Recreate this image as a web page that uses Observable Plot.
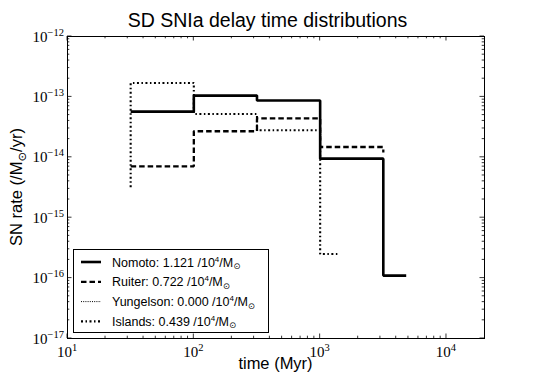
<!DOCTYPE html>
<html>
<head>
<meta charset="utf-8">
<script src="https://cdn.jsdelivr.net/npm/d3@7"></script>
<script src="https://cdn.jsdelivr.net/npm/@observablehq/plot@0.6"></script>
<style>
  html, body { margin: 0; padding: 0; background: #fff; }
  #chart svg { display: block; }
</style>
</head>
<body>
<div id="chart"></div>
<script>
// ---- data ----
const chartTitle = "SD SNIa delay time distributions";
const xLabel = "time (Myr)";
const nomotoTime = [31.62, 100, 316.2, 1000, 3162, 4800];
const nomotoRate = [5.7e-14, 5.7e-14, 1.05e-13, 8.7e-14, 9.5e-15, 1.1e-16];
const ruiterTime = [31.62, 100, 316.2, 1000, 3162, 3162];
const ruiterRate = [7.1e-15, 7.1e-15, 2.7e-14, 4.4e-14, 1.48e-14, 1.2e-14];
const yungelsonTime = [];
const yungelsonRate = [];
const islandsTime = [31.62, 100, 316.2, 1000, 1430];
const islandsRate = [3.2e-15, 1.7e-13, 5.2e-14, 2.8e-14, 2.5e-16];
const seriesNames = ["Nomoto", "Ruiter", "Yungelson", "Islands"];
const seriesTotals = ["1.121", "0.722", "0.000", "0.439"];
const xTickExps = [1, 2, 3, 4];
const yTickExps = [-12, -13, -14, -15, -16, -17];

// ---- styles ----
const styles = {
  Nomoto:    { width: 2.6, dash: null },
  Ruiter:    { width: 2.3, dash: "5.5,3" },
  Yungelson: { width: 1,   dash: "1,1.2" },
  Islands:   { width: 2.1, dash: "2,2.5,1.5,2.5" }
};
const W = 538, H = 377;
const mL = 67, mR = 54, mT = 36, mB = 39;

const seriesData = {
  Nomoto: nomotoTime.map((t, i) => ({ time: t, rate: nomotoRate[i] })),
  Ruiter: ruiterTime.map((t, i) => ({ time: t, rate: ruiterRate[i] })),
  Yungelson: yungelsonTime.map((t, i) => ({ time: t, rate: yungelsonRate[i] })),
  Islands: islandsTime.map((t, i) => ({ time: t, rate: islandsRate[i] }))
};

const plot = Plot.plot({
  width: W, height: H,
  marginLeft: mL, marginRight: mR, marginTop: mT, marginBottom: mB,
  style: { background: "white", overflow: "visible" },
  x: { type: "log", domain: [10, 2e4], axis: null },
  y: { type: "log", domain: [1e-17, 1e-12], axis: null },
  marks: [
    ...seriesNames.map(name => Plot.line(seriesData[name], {
      x: "time", y: "rate", curve: "step-before",
      stroke: "black", strokeWidth: styles[name].width,
      strokeDasharray: styles[name].dash || undefined,
      strokeLinejoin: "miter", strokeLinecap: "butt"
    })),
    Plot.frame({ stroke: "black", strokeWidth: 1 })
  ]
});
document.getElementById("chart").appendChild(plot);

// ---- axes (inward ticks on all four sides), labels, legend ----
const svg = d3.select(plot);
const sx = plot.scale("x"), sy = plot.scale("y");
const X = v => sx.apply(v), Y = v => sy.apply(v);
const xLeft = X(10), xRight = X(2e4), yBot = Y(1e-17), yTop = Y(1e-12);
const serif = "'Liberation Serif', 'DejaVu Serif', serif";
const sans = "'Liberation Sans', Arial, Helvetica, sans-serif";

const tg = svg.append("g").attr("stroke", "black").attr("stroke-width", 0.8);
function xt(v, len) {
  const p = X(v);
  tg.append("line").attr("x1", p).attr("x2", p).attr("y1", yBot).attr("y2", yBot - len);
  tg.append("line").attr("x1", p).attr("x2", p).attr("y1", yTop).attr("y2", yTop + len);
}
function yt(v, len) {
  const p = Y(v);
  tg.append("line").attr("y1", p).attr("y2", p).attr("x1", xLeft).attr("x2", xLeft + len);
  tg.append("line").attr("y1", p).attr("y2", p).attr("x1", xRight).attr("x2", xRight - len);
}
xTickExps.forEach(e => {
  xt(Math.pow(10, e), 4.5);
  for (let m = 2; m <= 9; m++) { const v = m * Math.pow(10, e); if (v < 2e4) xt(v, 2.3); }
});
yTickExps.forEach(e => yt(Math.pow(10, e), 4.5));
yTickExps.slice(1).forEach(e => {
  for (let m = 2; m <= 9; m++) yt(m * Math.pow(10, e), 2.3);
});

const minus = e => (e < 0 ? "\u2212" + Math.abs(e) : String(e));
// x tick labels
xTickExps.forEach(e => {
  const t = svg.append("text").attr("x", X(Math.pow(10, e))).attr("y", yBot + 19)
    .attr("text-anchor", "middle").attr("font-family", serif).attr("font-size", 15).attr("fill", "black");
  t.append("tspan").text("10");
  t.append("tspan").attr("dy", -6).attr("font-size", 10.5).text(minus(e));
});
// y tick labels
yTickExps.forEach(e => {
  const t = svg.append("text").attr("x", xLeft - 3).attr("y", Y(Math.pow(10, e)) + 5.5)
    .attr("text-anchor", "end").attr("font-family", serif).attr("font-size", 15).attr("fill", "black");
  t.append("tspan").text("10");
  t.append("tspan").attr("dy", -6).attr("font-size", 10.5).text(minus(e));
});

// title
svg.append("text").attr("x", (xLeft + xRight) / 2 - 8).attr("y", 27)
  .attr("text-anchor", "middle").attr("font-family", sans).attr("font-size", 19.5)
  .attr("fill", "black").text(chartTitle);
// x label
svg.append("text").attr("x", (xLeft + xRight) / 2).attr("y", 369)
  .attr("text-anchor", "middle").attr("font-family", sans).attr("font-size", 16.5)
  .attr("fill", "black").text(xLabel);
// y label
const yl = svg.append("text")
  .attr("transform", `translate(22,${(yTop + yBot) / 2}) rotate(-90)`)
  .attr("text-anchor", "middle").attr("font-family", sans).attr("font-size", 16.5).attr("fill", "black");
yl.append("tspan").text("SN rate (/M");
yl.append("tspan").attr("dy", 3.5).attr("font-size", 11.5).attr("font-family", "'DejaVu Sans', sans-serif").text("\u2299");
yl.append("tspan").attr("dy", -3.5).text("/yr)");

// legend
const lg = svg.append("g");
lg.append("rect").attr("x", 73.5).attr("y", 249.5).attr("width", 195).attr("height", 83)
  .attr("fill", "white").attr("stroke", "black").attr("stroke-width", 1);
seriesNames.forEach((name, i) => {
  const cy = 262 + i * 19.8;
  lg.append("line").attr("x1", 81).attr("x2", 101).attr("y1", cy).attr("y2", cy)
    .attr("stroke", "black").attr("stroke-width", styles[name].width)
    .attr("stroke-dasharray", styles[name].dash);
  const t = lg.append("text").attr("x", 112).attr("y", cy + 4.5).attr("text-anchor", "start")
    .attr("font-family", sans).attr("font-size", 12.5).attr("fill", "black");
  t.append("tspan").text(`${name}: ${seriesTotals[i]} /10`);
  t.append("tspan").attr("dy", -5).attr("font-size", 8).text("4");
  t.append("tspan").attr("dy", 5).text("/M");
  t.append("tspan").attr("dy", 2.5).attr("font-size", 8.5).attr("font-family", "'DejaVu Sans', sans-serif").text("\u2299");
});
</script>
</body>
</html>
